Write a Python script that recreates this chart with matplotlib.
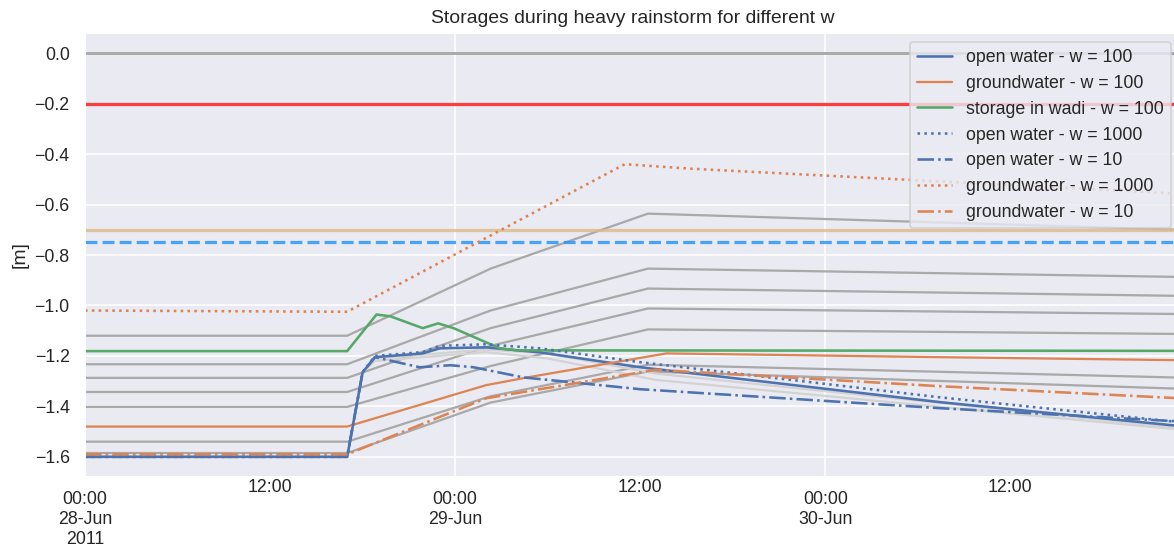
import datetime as dt
import matplotlib
matplotlib.use("Agg")
import matplotlib.pyplot as plt
import matplotlib.dates as mdates
from matplotlib.ticker import FuncFormatter
import seaborn as sns

sns.set_theme(style="darkgrid")
plt.rcParams["font.family"] = ["Liberation Sans", "DejaVu Sans"]

T0 = dt.datetime(2011, 6, 28, 0, 0)

# ---- reference levels (flat lines) ----
surface_level = 0.0
red_level = -0.2
tan_level = -0.70
blue_dash_level = -0.75
T_END = 71

# ---- grey ensemble lines: hours since 28-Jun 00:00 and levels [m] ----
grey_hours = [0, 17, 26.3, 36.5, 71]
grey_runs = [
    [-1.12, -1.12, -0.854, -0.636, -0.70],
    [-1.233, -1.233, -1.02, -0.854, -0.887],
    [-1.287, -1.287, -1.09, -0.933, -0.962],
    [-1.343, -1.343, -1.16, -1.012, -1.034],
    [-1.402, -1.402, -1.24, -1.095, -1.113],
    [-1.54, -1.54, -1.36, -1.235, -1.286],
    [-1.585, -1.585, -1.385, -1.262, -1.33],
]
light_hours = [0, 17, 18, 18.8, 26, 30, 37, 71]
light_runs = [
    [-1.60, -1.60, -1.265, -1.21, -1.175, -1.19, -1.27, -1.485],
    [-1.60, -1.60, -1.265, -1.22, -1.185, -1.21, -1.295, -1.492],
]

# ---- highlighted series ----
ow100_h = [0, 17, 18, 18.8, 21.9, 23, 26, 29.5, 36, 55.4, 71]
ow100_v = [-1.60, -1.60, -1.265, -1.205, -1.19, -1.17, -1.166, -1.186, -1.245, -1.383, -1.478]
gw100_h = [0, 17, 26, 28.7, 37.7, 55.4, 71]
gw100_v = [-1.48, -1.48, -1.316, -1.285, -1.19, -1.205, -1.217]
wadi_h = [0, 17, 18.9, 19.8, 21.9, 22.9, 23.9, 26.9, 28, 71]
wadi_v = [-1.181, -1.181, -1.036, -1.043, -1.09, -1.071, -1.09, -1.17, -1.178, -1.18]
ow1000_h = [0, 17, 18, 18.8, 21.9, 23, 26, 29.5, 36, 55.4, 71]
ow1000_v = [-1.60, -1.60, -1.265, -1.20, -1.185, -1.16, -1.154, -1.17, -1.225, -1.364, -1.463]
ow10_h = [0, 17, 18, 18.8, 21.7, 23.7, 25.2, 28.4, 36, 55.4, 71]
ow10_v = [-1.60, -1.60, -1.265, -1.205, -1.245, -1.237, -1.245, -1.285, -1.332, -1.407, -1.46]
gw1000_h = [0, 17, 35, 39.3, 71]
gw1000_v = [-1.02, -1.025, -0.44, -0.458, -0.557]
gw10_h = [0, 17, 26, 37, 55.4, 71]
gw10_v = [-1.59, -1.59, -1.368, -1.255, -1.32, -1.368]


def to_time(hours):
    return [T0 + dt.timedelta(hours=h) for h in hours]


BLUE, ORANGE, GREEN = sns.color_palette()[:3]

DPI = 116
fig = plt.figure(figsize=(1174 / DPI, 554 / DPI), dpi=DPI)
ax = fig.add_axes([85 / 1174, 1 - 477 / 554, (1180 - 85) / 1174, 444 / 554])

span = to_time([0, T_END])
ax.plot(span, [surface_level] * 2, color="darkgray", lw=1.8)
for run in grey_runs:
    ax.plot(to_time(grey_hours), run, color="darkgray", lw=1.4)
for run in light_runs:
    ax.plot(to_time(light_hours), run, color="lightgray", lw=1.4)
ax.plot(span, [red_level] * 2, color="red", alpha=0.75, lw=2)
ax.plot(span, [tan_level] * 2, color="burlywood", alpha=0.8, lw=2)
ax.plot(span, [blue_dash_level] * 2, color="dodgerblue", alpha=0.8, lw=2, ls="--")

ax.plot(to_time(ow100_h), ow100_v, color=BLUE, lw=1.6, label="open water - w = 100")
ax.plot(to_time(gw100_h), gw100_v, color=ORANGE, lw=1.4, label="groundwater - w = 100")
ax.plot(to_time(wadi_h), wadi_v, color=GREEN, lw=1.6, label="storage in wadi - w = 100")
ax.plot(to_time(ow1000_h), ow1000_v, color=BLUE, lw=1.6, ls=":", label="open water - w = 1000")
ax.plot(to_time(ow10_h), ow10_v, color=BLUE, lw=1.6, ls="-.", label="open water - w = 10")
ax.plot(to_time(gw1000_h), gw1000_v, color=ORANGE, lw=1.6, ls=":", label="groundwater - w = 1000")
ax.plot(to_time(gw10_h), gw10_v, color=ORANGE, lw=1.6, ls="-.", label="groundwater - w = 10")

ax.set_xlim(span)
ax.set_ylim(-1.68, 0.08)
ax.set_yticks([0.0, -0.2, -0.4, -0.6, -0.8, -1.0, -1.2, -1.4, -1.6])


def major_fmt(x, pos):
    d = mdates.num2date(x)
    lab = "00:00\n" + d.strftime("%d-%b")
    if d.day == 28:
        lab += "\n2011"
    return lab


ax.xaxis.set_major_locator(mdates.DayLocator())
ax.xaxis.set_minor_locator(mdates.HourLocator(byhour=[12]))
ax.xaxis.set_major_formatter(FuncFormatter(major_fmt))
ax.xaxis.set_minor_formatter(FuncFormatter(lambda x, pos: "12:00"))
ax.tick_params(axis="x", which="major", pad=3, labelsize=11)
ax.tick_params(axis="x", which="minor", pad=-2.5, labelsize=11)
ax.tick_params(axis="y", labelsize=11)
for lab in ax.get_xticklabels():
    lab.set_horizontalalignment("center")

ax.set_ylabel("[m]", fontsize=12)
ax.set_title("Storages during heavy rainstorm for different w", fontsize=12)
ax.legend(loc="upper right", fontsize=11)

fig.savefig("out.png", dpi=DPI)
